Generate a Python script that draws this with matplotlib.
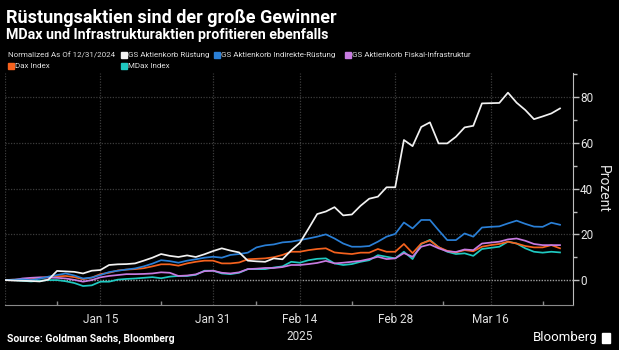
import matplotlib
matplotlib.use("Agg")
import matplotlib.pyplot as plt
from matplotlib import font_manager
from matplotlib.ticker import FixedLocator, NullFormatter
from matplotlib.patches import Rectangle

# Werte in Prozent, normiert auf 31.12.2024, Handelstage
ruestung = [0, -0.2, -0.3, -0.4, -0.6, 0.2, 4.0, 3.8, 3.6, 2.9, 4.1, 4.4, 6.6, 6.9, 7.0, 7.3,
            8.5, 9.8, 11.4, 10.6, 10.1, 10.8, 10.1, 11.3, 12.7, 13.9, 12.9, 12.1, 8.5, 8.2, 8.0,
            9.5, 9.1, 13.0, 16.3, 22.5, 28.9, 30.0, 31.9, 28.3, 28.7, 32.5, 35.6, 36.5, 40.6,
            40.6, 61.3, 58.6, 67.0, 69.0, 59.8, 59.8, 62.7, 66.8, 67.5, 77.3, 77.4, 77.5, 82.0,
            77.6, 74.4, 70.4, 71.6, 72.9, 75.1]
indirekt = [0, 0.2, 0.3, 0, 0.6, 1.5, 2.2, 2.9, 2.0, 0.7, 1.1, 2.2, 3.5, 4.1, 4.6, 5.1,
            6.0, 7.2, 8.7, 8.3, 7.6, 8.5, 9.1, 9.8, 10.2, 9.8, 11.0, 11.4, 12.0, 14.3, 15.2,
            15.6, 16.5, 16.8, 17.5, 18.2, 19.0, 20.0, 18.2, 16.0, 14.6, 14.6, 14.9, 16.8, 19.0,
            20.2, 25.2, 22.6, 26.3, 26.3, 21.8, 17.5, 17.5, 20.4, 19.0, 23.0, 23.3, 23.5, 24.8,
            26.0, 24.6, 23.4, 23.3, 25.1, 24.2]
fiskal = [0, 0, 0.7, 1.0, 1.2, 1.1, 1.0, 0.7, 0.1, -0.7, 0, 1.2, 1.8, 2.2, 2.6, 2.6,
          2.7, 2.9, 3.4, 3.2, 1.8, 2.0, 2.5, 3.9, 4.1, 3.2, 2.9, 3.4, 4.8, 5.0, 5.3,
          5.3, 5.7, 6.6, 6.6, 7.0, 7.5, 8.4, 7.3, 7.6, 8.0, 8.4, 9.2, 10.2, 9.2,
          9.5, 11.8, 10.2, 14.6, 15.6, 13.9, 12.6, 12.3, 13.4, 13.1, 16.0, 16.4, 16.8, 17.8,
          18.2, 17.2, 15.8, 15.3, 15.3, 15.3]
dax = [0, 0.2, 0.3, 0.3, 1.0, 1.3, 1.6, 1.8, 1.3, 0.4, 1.1, 2.6, 3.2, 4.2, 4.6, 4.8,
       5.2, 6.0, 6.9, 6.9, 6.3, 7.3, 8.0, 8.5, 8.5, 7.3, 7.3, 7.7, 9.1, 9.3, 9.5,
       10.0, 11.0, 12.4, 12.4, 13.1, 13.6, 13.9, 12.1, 11.7, 11.4, 12.0, 12.0, 13.6, 12.4,
       12.4, 15.8, 11.8, 16.0, 17.3, 14.4, 12.8, 12.1, 13.1, 12.6, 14.6, 15.3, 15.8, 16.8,
       16.0, 14.9, 14.3, 14.3, 15.3, 13.9]
mdax = [0, 0, -0.3, -0.6, -0.3, 0, 0, -0.5, -1.3, -2.6, -2.3, -0.7, -0.7, 0.2, 0.5, 0.7,
        1.0, 1.3, 0.8, 1.5, 1.8, 1.8, 2.3, 4.1, 4.1, 2.9, 2.6, 3.2, 4.8, 4.8, 4.8,
        5.5, 6.0, 8.0, 7.6, 8.7, 9.3, 9.5, 7.3, 6.6, 7.0, 8.0, 8.7, 10.9, 10.2,
        9.5, 12.4, 9.2, 15.8, 17.6, 14.4, 12.4, 11.4, 11.7, 10.6, 13.6, 14.1, 14.6, 16.8,
        16.0, 13.9, 12.4, 12.0, 12.4, 12.1]

serien = [
    ("GS Aktienkorb Rüstung", ruestung, "#f2f2f2"),
    ("GS Aktienkorb Indirekte-Rüstung", indirekt, "#2a7fd6"),
    ("GS Aktienkorb Fiskal-Infrastruktur", fiskal, "#c77be0"),
    ("Dax Index", dax, "#f5621e"),
    ("MDax Index", mdax, "#1fc9c1"),
]

tick_pos = [11, 24, 34, 45, 56]
tick_labels = ["Jan 15", "Jan 31", "Feb 14\n2025", "Feb 28", "Mar 16"]
minor_pos = [6, 18, 29, 40, 50.5, 62]

# schmale Schrift, falls vorhanden
vorhanden = {f.name for f in font_manager.fontManager.ttflist}
schmal = None
for kandidat in ["Liberation Sans Narrow", "DejaVu Sans Condensed"]:
    if kandidat in vorhanden:
        schmal = kandidat
        break
if schmal:
    fam_s, size_s = [schmal, "DejaVu Sans"], 7.2
else:
    fam_s, size_s = ["Roboto", "DejaVu Sans"], 5.8

W, H = 619, 350
fig = plt.figure(figsize=(W / 100, H / 100), dpi=100, facecolor="black")
plt.rcParams["font.family"] = ["Roboto", "DejaVu Sans"]

ax = fig.add_axes([5 / W, (H - 305) / H, 568 / W, 232 / H])
ax.set_facecolor("black")

grid_c = "#3c3c3c"
for y in [20, 40, 60, 80]:
    ax.axhline(y, color=grid_c, lw=0.9, ls=(0, (1, 1.2)), zorder=1)
ax.axhline(0, color="#a0a0a0", lw=1.0, ls=(0, (1, 1.0)), zorder=1)
for x in [0] + tick_pos:
    ax.axvline(x, color=grid_c, lw=0.9, ls=(0, (1, 1.2)), zorder=1)

xs = list(range(len(ruestung)))
for name, vals, col in reversed(serien):
    ax.plot(xs, vals, color=col, lw=1.25, zorder=3)

ax.set_xlim(0, 65.5)
ax.set_ylim(-10.9, 90.6)

for s in ["top", "left"]:
    ax.spines[s].set_visible(False)
ax.spines["right"].set_color("#bdbdbd")
ax.spines["bottom"].set_color("#8a8a8a")

ax.yaxis.tick_right()
ax.yaxis.set_label_position("right")
ax.set_yticks([0, 20, 40, 60, 80])
ax.yaxis.set_minor_locator(FixedLocator([10, 30, 50, 70, 90]))
ax.tick_params(axis="y", which="major", colors="#bdbdbd", labelcolor="#e6e6e6",
               length=4, width=1, labelsize=8.5, pad=1)
ax.tick_params(axis="y", which="minor", colors="#bdbdbd", length=3, width=1)
ax.set_ylabel("Prozent", color="#e6e6e6", fontsize=10, rotation=270, labelpad=12)

ax.set_xticks(tick_pos)
ax.set_xticklabels(tick_labels)
ax.xaxis.set_minor_locator(FixedLocator(minor_pos))
ax.xaxis.set_minor_formatter(NullFormatter())
ax.tick_params(axis="x", which="major", length=0, labelcolor="#e0e0e0", labelsize=8.5, pad=6)
ax.tick_params(axis="x", which="minor", direction="in", colors="#8a8a8a", length=3, width=1)
for lbl in ax.get_xticklabels():
    lbl.set_linespacing(1.35)

# Titel
fig.text(6 / W, 1 - 18 / H, "Rüstungsaktien sind der große Gewinner", color="white",
         fontsize=13, fontweight="bold", va="center", ha="left")
fig.text(6 / W, 1 - 34.5 / H, "MDax und Infrastrukturaktien profitieren ebenfalls", color="white",
         fontsize=10.3, fontweight="bold", va="center", ha="left")

# Legende
leg_y1, leg_y2 = 1 - 55 / H, 1 - 66 / H
fig.text(8 / W, leg_y1, "Normalized As Of 12/31/2024", color="#dddddd", fontsize=size_s,
         family=fam_s, va="center", ha="left")
legend_pos = [(121, leg_y1), (214, leg_y1), (345, leg_y1), (8, leg_y2), (121, leg_y2)]
for (name, vals, col), (px, py) in zip(serien, legend_pos):
    fig.patches.append(Rectangle((px / W, py - 3 / H), 6 / W, 6 / H, color=col,
                                 transform=fig.transFigure, figure=fig))
    fig.text((px + 7) / W, py, name, color="#dddddd", fontsize=size_s, family=fam_s,
             va="center", ha="left")

# Fußzeile
fig.text(7 / W, 1 - 339 / H, "Source: Goldman Sachs, Bloomberg", color="white",
         fontsize=7.5, fontweight="bold", va="center", ha="left")
fig.text(597 / W, 1 - 338 / H, "Bloomberg", color="white", fontsize=9.5,
         va="center", ha="right")
fig.patches.append(Rectangle((602 / W, 1 - 343 / H), 8 / W, 10 / H, color="white",
                             transform=fig.transFigure, figure=fig))

fig.savefig("out.png", dpi=100, facecolor="black")
